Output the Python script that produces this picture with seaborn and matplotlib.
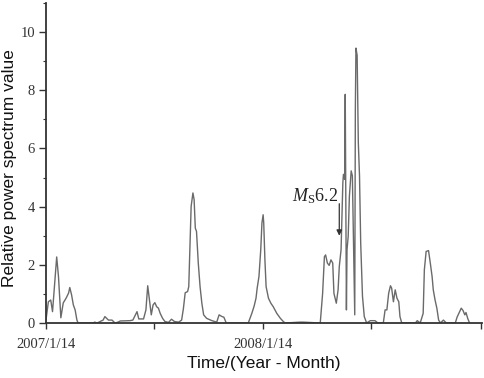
import matplotlib
matplotlib.use("Agg")
import matplotlib.pyplot as plt
import pandas as pd
import seaborn as sns
from matplotlib.ticker import MultipleLocator

# days after 2007/1/14 and relative power spectrum value
days = [0, 4, 8, 11, 15, 18, 21, 25, 29, 34, 38, 40, 43, 46, 49, 52, 54,
        79, 82, 86, 96, 99, 105, 111, 116, 121, 125, 141, 146, 153, 156, 164,
        168, 171, 174, 177, 180, 183, 186, 189, 192, 196, 200, 206, 211, 216,
        223, 228, 231, 234, 238, 240, 242, 244, 247, 249, 251, 253, 256, 259,
        262, 265, 270, 279, 287, 291, 296, 299, 303, 340, 346, 350, 353, 355,
        358, 361, 363, 365, 366, 368, 370, 374, 378, 382, 388, 394, 399, 402,
        427, 432, 461, 465, 468, 470, 473, 476, 479, 482, 484, 488, 491, 493,
        496, 497, 499, 500, 502, 503, 505, 506, 508, 510, 513, 515, 517, 519,
        520, 521, 523, 525, 527, 529, 532, 535, 539, 545, 553, 558, 567, 570,
        573, 576, 579, 581, 584, 587, 590, 593, 595, 598, 621, 624, 629, 634,
        636, 639, 643, 646, 649, 651, 654, 657, 660, 663, 668, 673, 688, 691,
        694, 698, 701, 704, 706, 709, 712]
power = [0.1, 0.73, 0.79, 0.39, 1.48, 2.27, 1.6, 0.18, 0.69, 0.86, 1.03, 1.22,
         0.97, 0.62, 0.45, 0.1, 0.0,
         0.0, 0.03, 0.0, 0.1, 0.22, 0.1, 0.1, 0.0, 0.03, 0.07, 0.08, 0.1, 0.39,
         0.14, 0.14,
         0.45, 1.28, 0.79, 0.28, 0.62, 0.7, 0.56, 0.51, 0.33, 0.16, 0.05, 0.02,
         0.13, 0.05,
         0.03, 0.1, 0.5, 1.04, 1.08, 1.25, 2.63, 4.01, 4.47, 4.24, 3.26, 3.15,
         2.06, 1.25,
         0.68, 0.28, 0.16, 0.08, 0.03, 0.28, 0.22, 0.2, 0.0, 0.0, 0.33, 0.59,
         0.85, 1.2,
         1.6, 2.52, 3.44, 3.72, 3.44, 2.17, 1.25, 0.85, 0.68, 0.56, 0.33, 0.16,
         0.05, 0.0,
         0.03, 0.03, 0.0, 1.02, 2.28, 2.34, 2.06, 1.98, 2.17, 2.06, 1.02, 0.68,
         1.14, 1.94,
         2.52, 3.33, 4.82, 5.11, 4.94, 7.86, 0.45, 2.52, 2.98, 4.36, 5.23, 5.06,
         2.75, 0.28,
         7.34, 9.45, 9.2, 6.2, 5.06, 2.75, 0.92, 0.22, 0.0, 0.08, 0.08, 0.0,
         0.0, 0.45,
         0.45, 1.02, 1.28, 1.2, 0.73, 1.14, 0.85, 0.73, 0.22, 0.0, 0.0, 0.08,
         0.0, 0.33,
         1.83, 2.46, 2.49, 2.06, 1.6, 1.14, 0.79, 0.51, 0.1, 0.0, 0.1, 0.0,
         0.0, 0.2,
         0.33, 0.51, 0.43, 0.28, 0.36, 0.15, 0.0]

start = pd.Timestamp("2007-01-14")
tick_dates = ["2007-01-14", "2007-07-14", "2008-01-14", "2008-07-14", "2009-01-14"]
tick_labels = ["2007/1/14", "", "2008/1/14", "", ""]
quake_day = 493
quake_label = r"$\mathit{M}_\mathrm{S}$6.2"

df = pd.DataFrame({"time": start + pd.to_timedelta(days, unit="D"), "power": power})

sns.set_style("ticks")
plt.rcParams["mathtext.fontset"] = "custom"
plt.rcParams["mathtext.rm"] = "Liberation Serif"
plt.rcParams["mathtext.it"] = "Liberation Serif:italic"

fig = plt.figure(figsize=(4.84, 3.78), dpi=100)
ax = fig.add_axes([0.095, 0.1455, 0.901, 0.8466])

sns.lineplot(data=df, x="time", y="power", ax=ax, color="#6a6a6a", linewidth=1.0)

ax.set_ylim(0, 11)
ax.set_xlim(start, start + pd.Timedelta(days=733))
ax.yaxis.set_major_locator(MultipleLocator(2))
ax.yaxis.set_minor_locator(MultipleLocator(1))
ax.set_xticks(pd.to_datetime(tick_dates))
ax.set_xticklabels(tick_labels)

for lab in ax.get_xticklabels() + ax.get_yticklabels():
    lab.set_fontfamily("Liberation Serif")
    lab.set_fontsize(10.5)
ax.tick_params(axis="x", length=4, width=1, pad=7, colors="#333333")
ax.tick_params(axis="y", which="major", length=5, width=1, pad=3, colors="#333333")
ax.tick_params(axis="y", which="minor", length=2.5, width=0.8, colors="#333333")

sns.despine(ax=ax)
for side in ["left", "bottom"]:
    ax.spines[side].set_linewidth(1.3)
    ax.spines[side].set_color("#333333")

ax.set_ylabel("Relative power spectrum value", fontfamily="Liberation Sans",
              fontsize=12.5, va="center", color="#111111")
ax.yaxis.set_label_coords(-0.083, 0.483)
ax.set_xlabel("Time/(Year - Month)", fontfamily="Liberation Sans",
              fontsize=12.5, va="center", color="#111111")
ax.xaxis.set_label_coords(0.5, -0.125)

qx = start + pd.Timedelta(days=quake_day)
ax.annotate("", xy=(qx, 3.0), xytext=(qx, 4.1),
            arrowprops=dict(arrowstyle="-|>", color="#333333", lw=0.9,
                            mutation_scale=8, shrinkA=0, shrinkB=0))
ax.text(start + pd.Timedelta(days=453), 4.35, quake_label, fontsize=13,
        ha="center", va="center", color="#222222", fontfamily="Liberation Serif")

fig.savefig("out.png", dpi=100)
